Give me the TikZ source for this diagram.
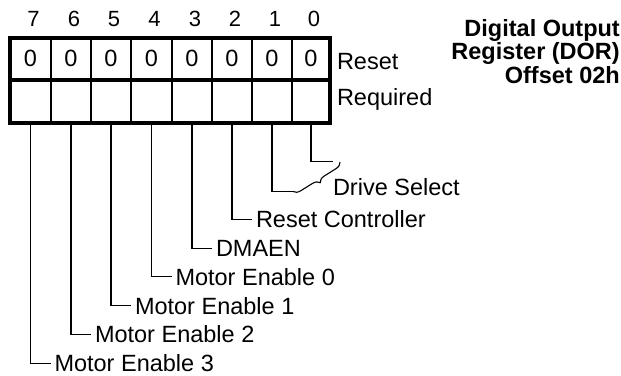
\documentclass[tikz,border=0pt]{standalone}
\usepackage{fontspec}
\setmainfont{Liberation Sans}
\usetikzlibrary{decorations.pathreplacing}
\begin{document}
\begin{tikzpicture}[x=1pt,y=-1pt,
  cellbox/.style={draw, line width=1.1pt, inner sep=0pt, outer sep=0pt,
    font=\fontsize{23.5}{28}\selectfont},
  frame/.style={line width=4pt},
  leader/.style={line width=1.1pt},
  lbl/.style={font=\fontsize{23.5}{28}\selectfont, inner sep=0pt, outer sep=0pt},
  leaderlbl/.style={lbl, inner xsep=4pt},
  bitnum/.style={font=\fontsize{22}{26}\selectfont, inner sep=0pt},
  titletext/.style={font=\fontsize{23.5}{28}\selectfont\bfseries, inner sep=0pt},
  dbrace/.style={decorate, decoration={brace, amplitude=7pt}, line width=1.1pt}
  ]
\useasboundingbox (0,0) rectangle (621,375);

% cells, bit numbers
\foreach \b/\xl/\xr in {7/10/51, 6/51/91, 5/91/131, 4/131/172, 3/172/212, 2/212/252, 1/252/292, 0/292/330} {
  \node[cellbox, minimum width={(\xr-\xl)*1pt}, minimum height=42.2pt]
    (rst\b) at ({(\xl+\xr)/2}, 58.6) {0};
  \node[cellbox, minimum width={(\xr-\xl)*1pt}, minimum height=43.3pt]
    (req\b) at ({(\xl+\xr)/2}, 101.35) {};
  \node[bitnum, anchor=base] (bn\b) at ({(\xl+\xr)/2+3}, 26.5) {\b};
}

% thick frame
\draw[frame] (rst7.north west) rectangle (req0.south east);
\draw[frame] (rst7.south west) -- (rst0.south east);

% row labels
\node[lbl, anchor=base west] (resetlbl) at (337,69) {Reset};
\node[lbl, anchor=base west] (reqlbl) at (337,105) {Required};

% title
\node[titletext, anchor=base east] (t1) at (620,36.5) {Digital Output};
\node[titletext, anchor=base east] (t2) at (620,59.8) {Register (DOR)};
\node[titletext, anchor=base east] (t3) at (620,83.2) {Offset 02h};

% leader labels
\foreach \b/\cx/\txt in {7/30.5/Motor Enable 3, 6/71/Motor Enable 2, 5/111/Motor Enable 1,
                         4/151.5/Motor Enable 0, 3/192/DMAEN, 2/232/Reset Controller} {
  \node[leaderlbl, anchor=west] (lab\b) at ({\cx+20}, {161.7+28.8*\b}) {\txt};
  \draw[leader] (req\b.south) |- (lab\b.west);
}

% drive select
\coordinate (d1) at (293,191.5);
\coordinate (d0) at (333,161.7);
\coordinate (br0) at (340,162);
\draw[leader] (req1.south) |- (d1);
\draw[leader] (req0.south) |- (d0);
\draw[dbrace] (br0) -- (d1);
\node[lbl, anchor=west] (drvsel) at (333,187.5) {Drive Select};
\end{tikzpicture}
\end{document}
